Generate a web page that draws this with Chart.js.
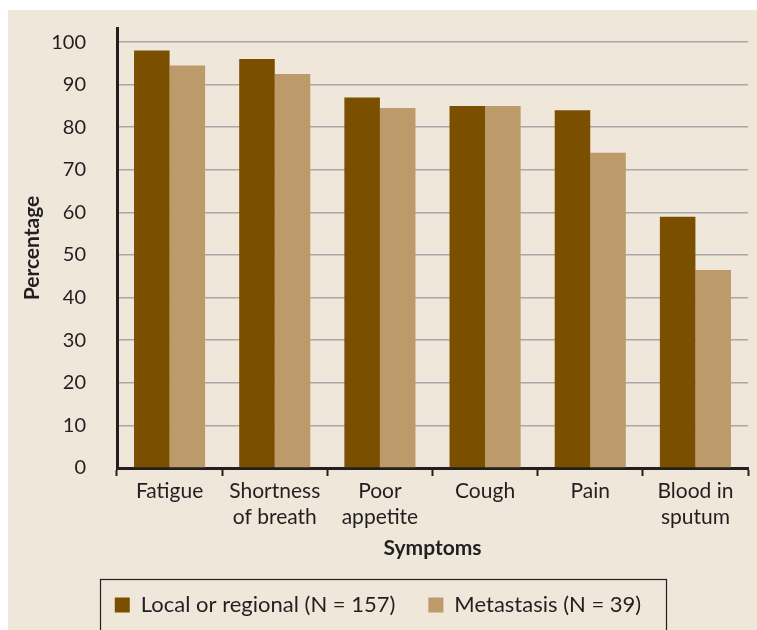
<!DOCTYPE html>
<html>
<head>
<meta charset="utf-8">
<script src="https://cdn.jsdelivr.net/npm/chart.js@4.4.1/dist/chart.umd.min.js"></script>
<style>
  html, body { margin: 0; padding: 0; background: #ffffff; }
  #wrap { position: absolute; left: 8px; top: 10px; width: 749px; height: 620px; background: #efe7d9; }
</style>
</head>
<body>
<div id="wrap"><canvas id="chart" width="749" height="620"></canvas></div>
<script>
const categories = ['Fatigue', ['Shortness', 'of breath'], ['Poor', 'appetite'], 'Cough', 'Pain', ['Blood in', 'sputum']];
const localValues = [98, 96, 87, 85, 84, 59];
const metastasisValues = [94.5, 92.5, 84.5, 85, 74, 46.5];
const seriesNames = ['Local or regional (N = 157)', 'Metastasis (N = 39)'];
const yTicks = [0, 10, 20, 30, 40, 50, 60, 70, 80, 90, 100];

const DARK = '#7a5000';
const LIGHT = '#bc9a6a';
const INK = '#231f20';
const FONT = 'Lato, "Open Sans", sans-serif';

// Box around the legend
const legendBorder = {
  id: 'legendBorder',
  afterDraw(chart) {
    const ctx = chart.ctx;
    const w = 566;
    const x = Math.round(chart.width / 2 - w / 2) + 0.5;
    ctx.save();
    ctx.strokeStyle = INK;
    ctx.lineWidth = 1.2;
    ctx.strokeRect(x, 569.5, w, 60);
    ctx.restore();
  }
};

new Chart(document.getElementById('chart'), {
  type: 'bar',
  data: {
    labels: categories,
    datasets: [
      { label: seriesNames[0], data: localValues, backgroundColor: DARK },
      { label: seriesNames[1], data: metastasisValues, backgroundColor: LIGHT }
    ]
  },
  options: {
    responsive: false,
    animation: false,
    layout: { padding: { top: 18, right: 9, bottom: 4, left: 0 } },
    datasets: { bar: { categoryPercentage: 0.676, barPercentage: 1.0 } },
    plugins: {
      tooltip: { enabled: false },
      legend: {
        position: 'bottom',
        labels: {
          boxWidth: 15,
          boxHeight: 15,
          padding: 33,
          color: INK,
          font: { family: FONT, size: 22 }
        }
      }
    },
    scales: {
      x: {
        afterFit(scale) { scale.height = 93; },
        grid: {
          drawOnChartArea: false,
          drawTicks: true,
          tickLength: 8,
          tickWidth: 2,
          tickColor: INK
        },
        border: { color: INK, width: 3 },
        ticks: {
          color: INK,
          padding: 2,
          maxRotation: 0,
          font: { family: FONT, size: 21, lineHeight: 1.25 }
        },
        title: {
          display: true,
          text: 'Symptoms',
          color: INK,
          font: { family: FONT, size: 21, weight: 'bold' },
          padding: { top: 0, bottom: 0 }
        }
      },
      y: {
        min: 0,
        max: 103.3,
        afterFit(scale) {
          scale.width = 109;
          scale.paddingTop = 0;
          scale.paddingBottom = 0;
        },
        afterBuildTicks(scale) { scale.ticks = yTicks.map(v => ({ value: v })); },
        grid: { color: '#a8a8a8', lineWidth: 1.5, drawTicks: false },
        border: { color: INK, width: 3 },
        ticks: {
          color: INK,
          padding: 31,
          font: { family: FONT, size: 20 }
        },
        title: {
          display: true,
          text: 'Percentage',
          color: INK,
          font: { family: FONT, size: 21, weight: 'bold' },
          padding: { top: 12, bottom: 0 }
        }
      }
    }
  },
  plugins: [legendBorder]
});
</script>
</body>
</html>
